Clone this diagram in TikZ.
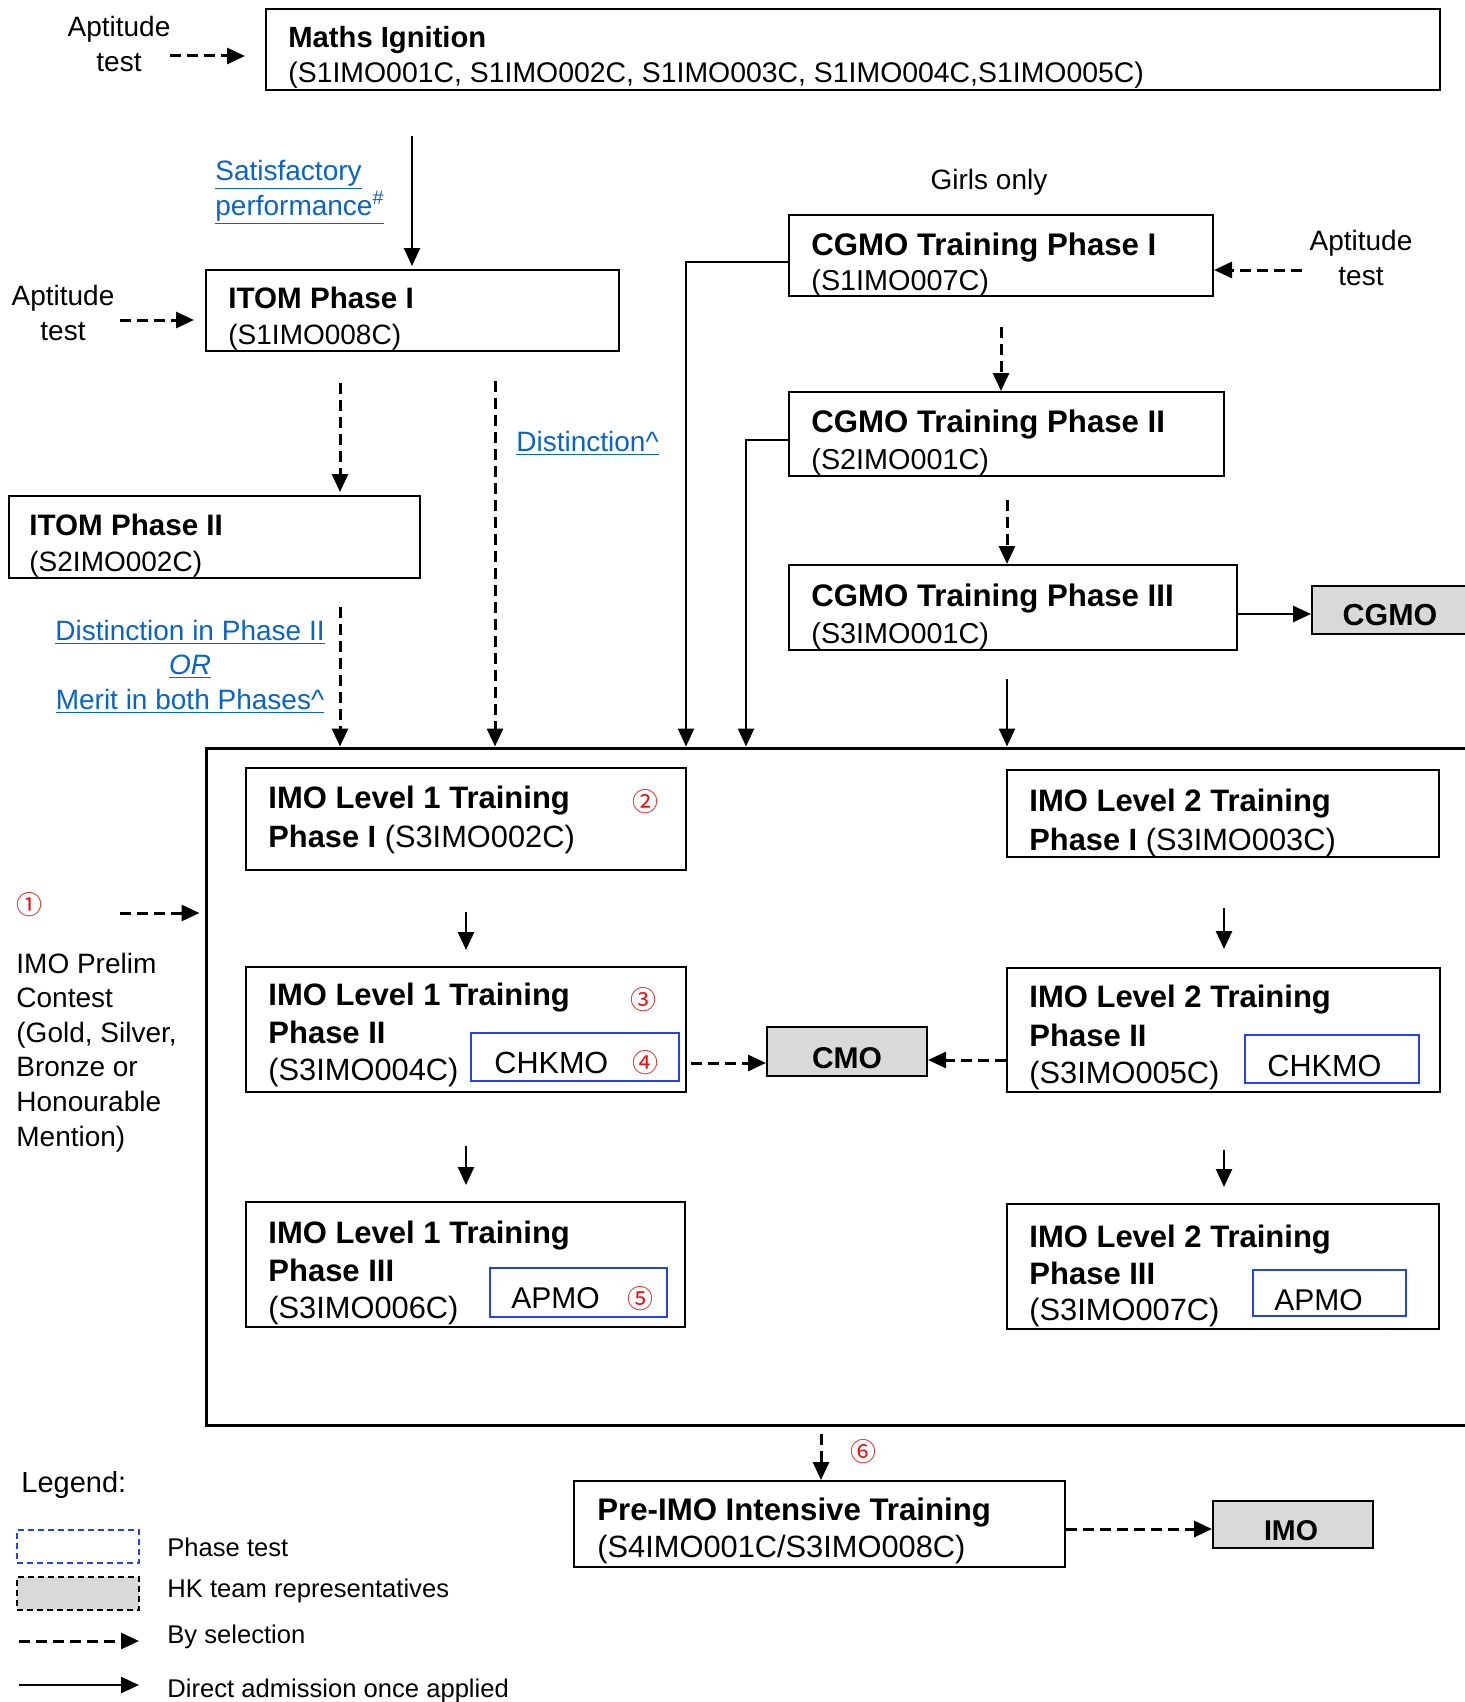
\documentclass[tikz,border=0pt]{standalone}
\usepackage{fontspec}
\setmainfont{Liberation Sans}
\newfontfamily\cjk{Noto Sans CJK SC}
\usetikzlibrary{arrows.meta,fit,calc}
\definecolor{boxgray}{HTML}{D9D9D9}
\definecolor{phaseblue}{HTML}{2244EE}
\definecolor{circred}{HTML}{E8100F}
\definecolor{linkblue}{HTML}{0A64C8}
\newcommand\fsz[1]{\fontsize{#1}{#1}\selectfont}
\begin{document}
\begin{tikzpicture}[x=0.5pt,y=-0.5pt,
  box/.style={draw, line width=1pt, inner sep=0pt},
  gbox/.style={draw, line width=1pt, fill=boxgray, inner sep=0pt},
  bbox/.style={draw=phaseblue, line width=1pt, inner sep=0pt},
  txt/.style={inner sep=0pt, anchor=base west},
  ctxt/.style={inner sep=0pt, anchor=base},
  sel/.style={line width=1.5pt, dash pattern=on 5.5pt off 3pt, -{Triangle[length=9pt,width=8pt]}},
  dir/.style={line width=1.3pt, -{Triangle[length=9pt,width=8pt]}},
  circ/.style={inner sep=0pt, text=circred, font=\cjk\fsz{13}},
  link/.style={inner sep=0pt, text=linkblue, font=\fsz{14}},
  plain/.style={font=\fsz{14}},
]
\useasboundingbox (0,0) rectangle (1464,1702);

% ---------- Maths Ignition ----------
\node[ctxt,plain] (apt1a) at (119,37) {Aptitude};
\node[ctxt,plain] (apt1b) at (119,72) {test};
\node[box, fit={(266,9)(1440,90)}] (maths) {};
\node[txt,font=\bfseries\fsz{14.6}] (mathsT) at (288,48) {Maths Ignition};
\node[txt,font=\fsz{14.2}] (mathsC) at (288,83) {(S1IMO001C, S1IMO002C, S1IMO003C, S1IMO004C,S1IMO005C)};
\coordinate (a1s) at (170,56);
\draw[sel, shorten >=10pt] (a1s) -- (maths.west |- a1s);

% ---------- ITOM ----------
\node[box, fit={(206,270)(619,351)}] (itom1) {};
\node[txt,font=\bfseries\fsz{14.8}] (itom1T) at (228,308) {ITOM Phase I};
\node[txt,font=\fsz{14}] (itom1C) at (228,344) {(S1IMO008C)};
\coordinate (m1) at (412,136);
\draw[dir, shorten >=1.5pt] (m1) -- (itom1.north -| m1);
\node[link,txt] (sat1) at (215,180) {\underline{Satisfactory}};
\node[link,txt] (sat2) at (215,215) {\underline{performance\textsuperscript{\#}}};

\node[ctxt,plain] (apt2a) at (63,305) {Aptitude};
\node[ctxt,plain] (apt2b) at (63,340) {test};
\coordinate (a2s) at (120,320);
\draw[sel, shorten >=5.5pt] (a2s) -- (itom1.west |- a2s);

\node[box, fit={(9,496)(420,578)}] (itom2) {};
\node[txt,font=\bfseries\fsz{14.8}] (itom2T) at (29,535) {ITOM Phase II};
\node[txt,font=\fsz{14}] (itom2C) at (29,571) {(S2IMO002C)};
\coordinate (x340) at (340,0);
\draw[sel, shorten <=15.5pt, shorten >=1.5pt] (itom1.south -| x340) -- (itom2.north -| x340);

% ---------- container ----------
\node[box, line width=1.5pt, fit={(206,748)(1490,1425)}] (cont) {};

\draw[sel, shorten <=14pt] (itom2.south -| x340) -- (cont.north -| x340);
\coordinate (x495) at (495,0);
\draw[sel, shorten <=14.5pt] (itom1.south -| x495) -- (cont.north -| x495);
\node[link,txt] (dist) at (516,451) {\underline{Distinction\textasciicircum}};

\node[link,ctxt] (dp1) at (190,640) {\underline{Distinction in Phase II}};
\node[link,ctxt,font=\itshape\fsz{14}] (dp2) at (190,674) {\underline{OR}};
\node[link,ctxt] (dp3) at (190,709) {\underline{Merit in both Phases\textasciicircum}};

% ---------- CGMO ----------
\node[ctxt,plain] (girls) at (989,189) {Girls only};
\node[box, fit={(789,215)(1213,296)}] (cg1) {};
\node[txt,font=\bfseries\fsz{15.6}] (cg1T) at (811,255) {CGMO Training Phase I};
\node[txt,font=\fsz{14.4}] (cg1C) at (811,290) {(S1IMO007C)};
\node[ctxt,plain] (apt3a) at (1361,250) {Aptitude};
\node[ctxt,plain] (apt3b) at (1361,285) {test};
\coordinate (a3s) at (1302,270);
\draw[sel] (a3s) -- (cg1.east |- a3s);

\node[box, fit={(789,392)(1224,476)}] (cg2) {};
\node[txt,font=\bfseries\fsz{15.6}] (cg2T) at (811,432) {CGMO Training Phase II};
\node[txt,font=\fsz{14.4}] (cg2C) at (811,469) {(S2IMO001C)};

\node[box, fit={(789,565)(1237,650)}] (cg3) {};
\node[txt,font=\bfseries\fsz{15.6}] (cg3T) at (811,606) {CGMO Training Phase III};
\node[txt,font=\fsz{14.4}] (cg3C) at (811,643) {(S3IMO001C)};

\coordinate (x1001) at (1001,0);
\draw[sel, shorten <=15pt] (cg1.south -| x1001) -- (cg2.north -| x1001);
\coordinate (x1007) at (1007,0);
\draw[sel, shorten <=11.5pt] (cg2.south -| x1007) -- (cg3.north -| x1007);
\draw[dir, shorten <=14pt] (cg3.south -| x1007) -- (cont.north -| x1007);

\coordinate (y262) at (0,262);
\coordinate (x686) at (686,0);
\draw[dir] (cg1.west |- y262) -| (cont.north -| x686);
\coordinate (y440) at (0,440);
\coordinate (x746) at (746,0);
\draw[dir] (cg2.west |- y440) -| (cont.north -| x746);

\node[gbox, fit={(1312,586)(1490,634)}] (cgmo) {};
\node[ctxt,font=\bfseries\fsz{15.2}] (cgmoT) at (1390,625) {CGMO};
\coordinate (y614) at (0,614);
\draw[dir] (cg3.east |- y614) -- (cgmo.west |- y614);

% ---------- IMO Level 1 ----------
\node[box, fit={(246,768)(686,870)}] (l1a) {};
\node[txt,font=\bfseries\fsz{15.5}] (l1aT) at (268,808) {IMO Level 1 Training};
\node[txt,font=\fsz{15.4}] (l1aC) at (268,847) {\textbf{Phase I} (S3IMO002C)};
\node[circ] (c2) at (645,802) {②};

\node[box, fit={(246,967)(686,1092)}] (l1b) {};
\node[txt,font=\bfseries\fsz{15.5}] (l1bT) at (268,1005) {IMO Level 1 Training};
\node[txt,font=\bfseries\fsz{15.5}] (l1bP) at (268,1043) {Phase II};
\node[txt,font=\fsz{15.4}] (l1bC) at (268,1080) {(S3IMO004C)};
\node[circ] (c3) at (643,1000) {③};
\node[bbox, fit={(471,1033)(679,1081)}] (chk1) {};
\node[txt,font=\fsz{15.3}] (chk1T) at (494,1073) {CHKMO};
\node[circ] (c4) at (645,1063) {④};

\node[box, fit={(246,1202)(685,1327)}] (l1c) {};
\node[txt,font=\bfseries\fsz{15.5}] (l1cT) at (268,1243) {IMO Level 1 Training};
\node[txt,font=\bfseries\fsz{15.5}] (l1cP) at (268,1281) {Phase III};
\node[txt,font=\fsz{15.4}] (l1cC) at (268,1318) {(S3IMO006C)};
\node[bbox, fit={(490,1268)(667,1317)}] (ap1) {};
\node[txt,font=\fsz{15}] (ap1T) at (511,1308) {APMO};
\node[circ] (c5) at (640,1299) {⑤};

% ---------- IMO Level 2 ----------
\node[box, fit={(1007,770)(1439,857)}] (l2a) {};
\node[txt,font=\bfseries\fsz{15.5}] (l2aT) at (1029,811) {IMO Level 2 Training};
\node[txt,font=\fsz{15.4}] (l2aC) at (1029,850) {\textbf{Phase I} (S3IMO003C)};

\node[box, fit={(1007,968)(1440,1092)}] (l2b) {};
\node[txt,font=\bfseries\fsz{15.5}] (l2bT) at (1029,1007) {IMO Level 2 Training};
\node[txt,font=\bfseries\fsz{15.5}] (l2bP) at (1029,1046) {Phase II};
\node[txt,font=\fsz{15.4}] (l2bC) at (1029,1083) {(S3IMO005C)};
\node[bbox, fit={(1245,1035)(1419,1083)}] (chk2) {};
\node[txt,font=\fsz{15.3}] (chk2T) at (1267,1076) {CHKMO};

\node[box, fit={(1007,1204)(1439,1329)}] (l2c) {};
\node[txt,font=\bfseries\fsz{15.5}] (l2cT) at (1029,1247) {IMO Level 2 Training};
\node[txt,font=\bfseries\fsz{15.5}] (l2cP) at (1029,1284) {Phase III};
\node[txt,font=\fsz{15.4}] (l2cC) at (1029,1320) {(S3IMO007C)};
\node[bbox, fit={(1253,1270)(1406,1316)}] (ap2) {};
\node[txt,font=\fsz{15}] (ap2T) at (1274,1310) {APMO};

\coordinate (x466) at (466,0);
\coordinate (x1224) at (1224,0);
\draw[dir, shorten <=20.5pt, shorten >=8pt] (l1a.south -| x466) -- (l1b.north -| x466);
\draw[dir, shorten <=25pt, shorten >=9pt] (l2a.south -| x1224) -- (l2b.north -| x1224);
\draw[dir, shorten <=26.5pt, shorten >=8pt] (l1b.south -| x466) -- (l1c.north -| x466);
\draw[dir, shorten <=28.5pt, shorten >=8pt] (l2b.south -| x1224) -- (l2c.north -| x1224);

% ---------- CMO ----------
\node[gbox, fit={(767,1027)(927,1076)}] (cmo) {};
\node[ctxt,font=\bfseries\fsz{15}] (cmoT) at (847,1068) {CMO};
\coordinate (y1063) at (0,1063);
\draw[sel, shorten <=2pt] (l1b.east |- y1063) -- (cmo.west |- y1063);
\coordinate (y1060) at (0,1060);
\draw[sel] (l2b.west |- y1060) -- (cmo.east |- y1060);

% ---------- IMO Prelim ----------
\node[circ] (c1) at (30,905) {①};
\coordinate (p1s) at (120,913);
\draw[sel, shorten >=2.5pt] (p1s) -- (cont.west |- p1s);
\foreach \t [count=\i] in {IMO Prelim, Contest, {(Gold, Silver,}, Bronze or, Honourable, Mention)}
  \node[txt,plain] (prelim\i) at (16, {973+34.6*(\i-1)}) {\t};

% ---------- Pre-IMO ----------
\node[box, fit={(574,1481)(1065,1567)}] (pre) {};
\node[txt,font=\bfseries\fsz{15.6}] (preT) at (597,1520) {Pre-IMO Intensive Training};
\node[txt,font=\fsz{15.4}] (preC) at (597,1557) {(S4IMO001C/S3IMO008C)};
\coordinate (x821) at (821,0);
\draw[sel, shorten <=3.5pt] (cont.south -| x821) -- (pre.north -| x821);
\node[circ] (c6) at (863,1452) {⑥};

\node[gbox, fit={(1213,1501)(1373,1548)}] (imo) {};
\node[ctxt,font=\bfseries\fsz{14.3}] (imoT) at (1291,1540) {IMO};
\coordinate (y1529) at (0,1529);
\draw[sel] (pre.east |- y1529) -- (imo.west |- y1529);

% ---------- Legend ----------
\node[txt,font=\fsz{14.5}] (leg) at (21,1492) {Legend:};
\node[draw=phaseblue, densely dashed, line width=1pt, inner sep=0pt, fit={(17,1530)(139,1563)}] (legB) {};
\node[draw, densely dashed, fill=boxgray, line width=1pt, inner sep=0pt, fit={(17,1577)(139,1610)}] (legG) {};
\node[txt,font=\fsz{12.8}] (legBT) at (167,1556) {Phase test};
\node[txt,font=\fsz{12.8}] (legGT) at (167,1597) {HK team representatives};
\node[txt,font=\fsz{12.8}] (legST) at (167,1643) {By selection};
\node[txt,font=\fsz{12.8}] (legDT) at (167,1697) {Direct admission once applied};
\coordinate (ls1) at (19,1641);
\draw[sel, shorten >=14pt] (ls1) -- (legST.west |- ls1);
\coordinate (ld1) at (19,1685);
\draw[dir, shorten >=14pt] (ld1) -- (legDT.west |- ld1);
\end{tikzpicture}
\end{document}
